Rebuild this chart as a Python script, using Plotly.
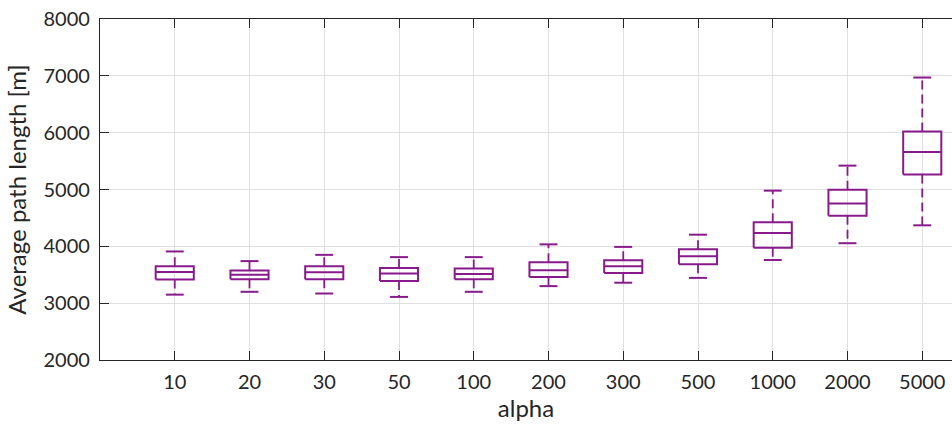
import plotly.graph_objects as go

# alpha settings and per-setting summary statistics of the average path length [m]
alpha_labels = ["10", "20", "30", "50", "100", "200", "300", "500", "1000", "2000", "5000"]
upper_whisker = [3910, 3740, 3850, 3810, 3810, 4035, 3990, 4205, 4980, 5420, 6970]
q3_values = [3650, 3575, 3650, 3620, 3610, 3720, 3755, 3950, 4425, 4995, 6020]
median_values = [3550, 3500, 3545, 3520, 3515, 3580, 3650, 3825, 4235, 4755, 5660]
q1_values = [3415, 3420, 3420, 3390, 3420, 3460, 3530, 3685, 3975, 4540, 5265]
lower_whisker = [3150, 3200, 3170, 3110, 3200, 3300, 3360, 3445, 3760, 4055, 4370]

y_ticks = [2000, 3000, 4000, 5000, 6000, 7000, 8000]

PURPLE = "#881b8b"
INK = "#262626"
FONT = "Lato"

box_half = 0.255
cap_half = 0.12

solid_x, solid_y = [], []
dash_x, dash_y = [], []
for i, _ in enumerate(alpha_labels):
    x = i + 1
    lo, b1, m, b3, hi = lower_whisker[i], q1_values[i], median_values[i], q3_values[i], upper_whisker[i]
    # box outline
    solid_x += [x - box_half, x + box_half, x + box_half, x - box_half, x - box_half, None]
    solid_y += [b1, b1, b3, b3, b1, None]
    # median
    solid_x += [x - box_half, x + box_half, None]
    solid_y += [m, m, None]
    # caps
    solid_x += [x - cap_half, x + cap_half, None, x - cap_half, x + cap_half, None]
    solid_y += [hi, hi, None, lo, lo, None]
    # whiskers, drawn from the box outwards
    dash_x += [x, x, None, x, x, None]
    dash_y += [b3, hi, None, b1, lo, None]

fig = go.Figure()
fig.add_trace(go.Scatter(
    x=dash_x, y=dash_y, mode="lines",
    line=dict(color=PURPLE, width=1.8, dash="9px,5px"),
    hoverinfo="skip", showlegend=False,
))
fig.add_trace(go.Scatter(
    x=solid_x, y=solid_y, mode="lines",
    line=dict(color=PURPLE, width=2),
    hoverinfo="skip", showlegend=False,
))

fig.update_layout(
    width=952, height=427,
    margin=dict(l=100, r=0, t=19, b=67),
    paper_bgcolor="white", plot_bgcolor="white",
    font=dict(family=FONT, size=20, color=INK),
)
fig.update_xaxes(
    range=[0, 852 / 74.75],
    tickmode="array",
    tickvals=list(range(1, len(alpha_labels) + 1)),
    ticktext=alpha_labels,
    ticks="inside", ticklen=9, tickcolor=INK, tickwidth=1,
    showline=True, linecolor=INK, linewidth=1.3, mirror="ticks",
    showgrid=True, gridcolor="#e0e0e0", gridwidth=1,
    zeroline=False,
    ticklabelstandoff=4,
    tickfont=dict(family=FONT, size=20, color=INK),
    title=dict(text="alpha", font=dict(family=FONT, size=24, color=INK), standoff=6),
)
fig.update_yaxes(
    range=[2000, 8000],
    tickmode="array", tickvals=y_ticks,
    ticks="inside", ticklen=9, tickcolor=INK, tickwidth=1,
    showline=True, linecolor=INK, linewidth=1.3,
    showgrid=True, gridcolor="#e0e0e0", gridwidth=1,
    zeroline=False,
    ticklabelstandoff=5,
    tickfont=dict(family=FONT, size=20, color=INK),
    title=dict(text="Average path length [m]", font=dict(family=FONT, size=24, color=INK), standoff=10),
)

fig.write_html("out.html")
